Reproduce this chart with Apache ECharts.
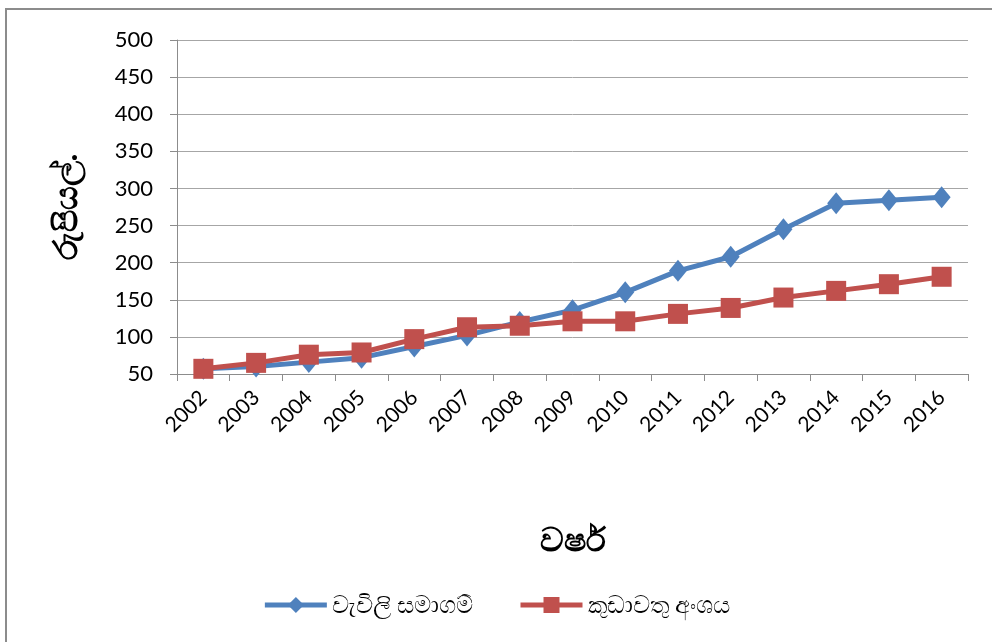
<!DOCTYPE html>
<html><head><meta charset="utf-8">
<script src="https://cdn.jsdelivr.net/npm/echarts@6/dist/echarts.min.js"></script>
<style>
html,body{margin:0;padding:0;background:#fff;}
#frame{position:absolute;left:5px;top:8px;width:990px;height:640px;border-left:2px solid #8c8c8c;border-top:2px solid #8c8c8c;box-sizing:border-box;}
#c{position:absolute;left:0;top:0;width:992px;height:642px;}
</style></head>
<body>
<div id="frame"></div>
<div id="c"></div>
<script>
const years = ['2002','2003','2004','2005','2006','2007','2008','2009','2010','2011','2012','2013','2014','2015','2016'];
const plantation = [57,60,66,72,87,102,120,136,160,189,208,245,280,284,288];
const smallholder = [57,65,76,79,97,113,115,121,121,131,139,153,162,171,181];
const seriesNames = ['වැවිලි සමාගම්','කුඩාවතු අංශය'];
const yTicks = {min:50, max:500, interval:50};

const chart = echarts.init(document.getElementById('c'));
const txt = 'Lato, "Noto Sans", sans-serif';
chart.setOption({
  animation:false,
  grid:{left:177, top:40, right:24, bottom:268},
  legend:{
    bottom:20, left:'center', itemWidth:62, itemHeight:20, itemGap:45,
    textStyle:{fontSize:24, color:'#000', fontFamily:txt},
    lineStyle:{width:5},
    data:seriesNames
  },
  xAxis:{
    type:'category', data:years, boundaryGap:true,
    name:'වර්ෂ', nameLocation:'middle', nameGap:150,
    nameTextStyle:{fontSize:33, fontWeight:'bold', color:'#000', fontFamily:txt},
    axisLine:{lineStyle:{color:'#8c8c8c', width:1}},
    axisTick:{show:true, alignWithLabel:false, length:7, lineStyle:{color:'#8c8c8c'}},
    axisLabel:{rotate:45, fontSize:21, color:'#000', fontFamily:txt, margin:20}
  },
  yAxis:{
    type:'value', min:yTicks.min, max:yTicks.max, interval:yTicks.interval,
    name:'රුපියල්.', nameLocation:'middle', nameGap:94, nameRotate:90,
    nameTextStyle:{fontSize:33, fontWeight:'bold', color:'#000', fontFamily:txt},
    axisLine:{show:true, lineStyle:{color:'#8c8c8c'}},
    axisTick:{show:true, length:7, lineStyle:{color:'#8c8c8c'}},
    axisLabel:{fontSize:22, color:'#000', fontFamily:txt, margin:24},
    splitLine:{lineStyle:{color:'#a6a6a6', width:1}}
  },
  series:[
    {name:seriesNames[0], type:'line', data:plantation, symbol:'diamond', symbolSize:[18,22],
     lineStyle:{color:'#4f81bd', width:5}, itemStyle:{color:'#4f81bd'}, z:2},
    {name:seriesNames[1], type:'line', data:smallholder, symbol:'rect', symbolSize:20,
     lineStyle:{color:'#c0504d', width:5}, itemStyle:{color:'#c0504d'}, z:3}
  ]
});
</script>
</body></html>
